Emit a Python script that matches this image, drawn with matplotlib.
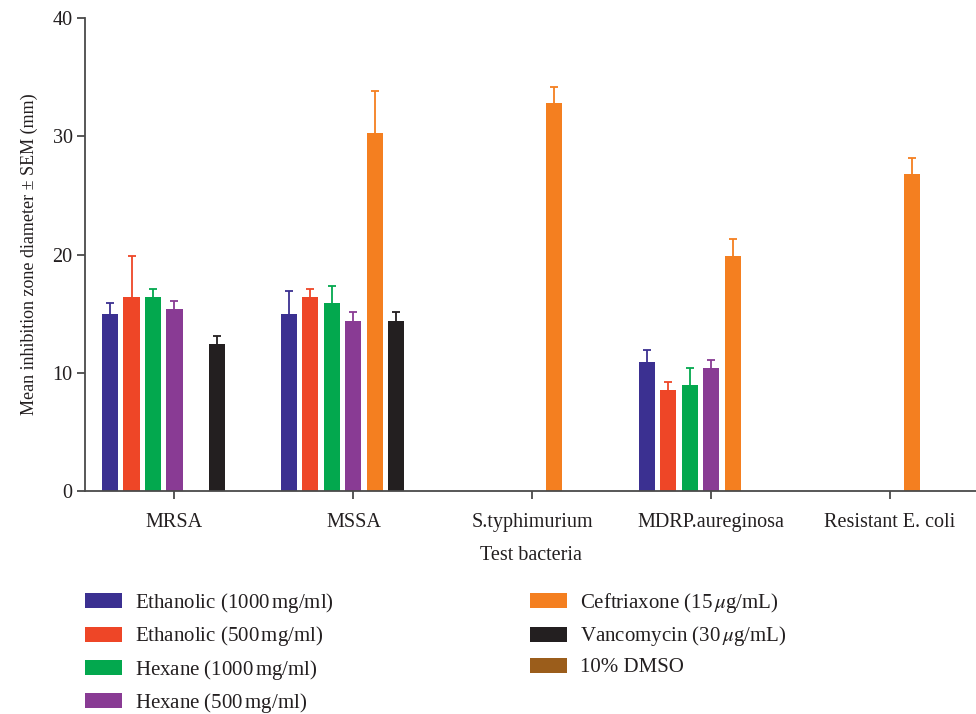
import numpy as np
import matplotlib
matplotlib.use("Agg")
import matplotlib.pyplot as plt

plt.rcParams['font.family'] = ['Liberation Serif', 'DejaVu Serif']
plt.rcParams['mathtext.fontset'] = 'stix'

bacteria = ['MRSA', 'MSSA', 'S.typhimurium', 'MDRP.aureginosa', 'Resistant E. coli']
series = ['Ethanolic (1000$\\,$mg/ml)', 'Ethanolic (500$\\,$mg/ml)',
          'Hexane (1000$\\,$mg/ml)', 'Hexane (500$\\,$mg/ml)',
          'Ceftriaxone (15$\\,\\mu$g/mL)', 'Vancomycin (30$\\,\\mu$g/mL)', '10% DMSO']
colors = ['#3b3091', '#ee4627', '#03a84e', '#893b94', '#f47f20', '#231f20', '#9b5d1b']

# mean zone diameter (mm), one list per series, in bacteria order
eth_1000 = [15.0, 15.0, 0, 10.9, 0]
eth_500 = [16.4, 16.4, 0, 8.5, 0]
hex_1000 = [16.4, 15.9, 0, 9.0, 0]
hex_500 = [15.4, 14.4, 0, 10.4, 0]
ceftriaxone = [0, 30.3, 32.8, 19.9, 26.8]
vancomycin = [12.4, 14.4, 0, 0, 0]
dmso = [0, 0, 0, 0, 0]

# SEM (upper error only)
eth_1000_sem = [0.9, 1.9, 0, 1.0, 0]
eth_500_sem = [3.5, 0.7, 0, 0.7, 0]
hex_1000_sem = [0.7, 1.4, 0, 1.4, 0]
hex_500_sem = [0.7, 0.7, 0, 0.7, 0]
ceftriaxone_sem = [0, 3.5, 1.4, 1.4, 1.4]
vancomycin_sem = [0.7, 0.7, 0, 0, 0]
dmso_sem = [0, 0, 0, 0, 0]

values = [eth_1000, eth_500, hex_1000, hex_500, ceftriaxone, vancomycin, dmso]
sems = [eth_1000_sem, eth_500_sem, hex_1000_sem, hex_500_sem, ceftriaxone_sem, vancomycin_sem, dmso_sem]

txt = '#231f20'
fig = plt.figure(figsize=(9.76, 7.14), dpi=100)
ax = fig.add_axes([0.0871, 0.3123, 0.9129, 0.6625])

x = np.arange(len(bacteria))
step, width = 0.12, 0.09
for i, (vals, err, col, lab) in enumerate(zip(values, sems, colors, series)):
    pos = x + (i - 3) * step
    ax.bar(pos, vals, width, color=col, label=lab, zorder=2)
    v = np.array(vals, dtype=float)
    e = np.array(err, dtype=float)
    keep = v > 0
    if keep.any():
        _, caps, _ = ax.errorbar(pos[keep], v[keep], yerr=[np.zeros(keep.sum()), e[keep]],
                                 fmt='none', ecolor=col, elinewidth=1.3, capsize=2.6,
                                 capthick=1.3, zorder=3)
        caps[0].set_visible(False)  # only the upper cap

ax.set_xlim(-0.5, 4.48)
ax.set_ylim(0, 40)
ax.set_yticks([0, 10, 20, 30, 40])
ax.set_xticks(x)
ax.set_xticklabels(bacteria)
for s in ['top', 'right']:
    ax.spines[s].set_visible(False)
for s in ['left', 'bottom']:
    ax.spines[s].set_color('#4a4a4a')
    ax.spines[s].set_linewidth(1.3)
ax.tick_params(direction='out', length=6, width=1.3, color='#4a4a4a',
               labelsize=14.5, labelcolor=txt)
ax.tick_params(axis='x', pad=10)
ax.tick_params(axis='y', pad=3)
ax.set_xlabel('Test bacteria', fontsize=14.5, color=txt, labelpad=10)
ax.set_ylabel('Mean inhibition zone diameter ± SEM (mm)', fontsize=13, color=txt, labelpad=10)

ax.legend(loc='upper left', bbox_to_anchor=(85 / 976, 1 - 591 / 714),
          bbox_transform=fig.transFigure, ncol=2, frameon=False, fontsize=15,
          handlelength=1.78, handleheight=0.72, handletextpad=0.62,
          labelspacing=0.45, columnspacing=9.4, borderpad=0, borderaxespad=0,
          labelcolor=txt)

fig.savefig('out.png', dpi=100)
